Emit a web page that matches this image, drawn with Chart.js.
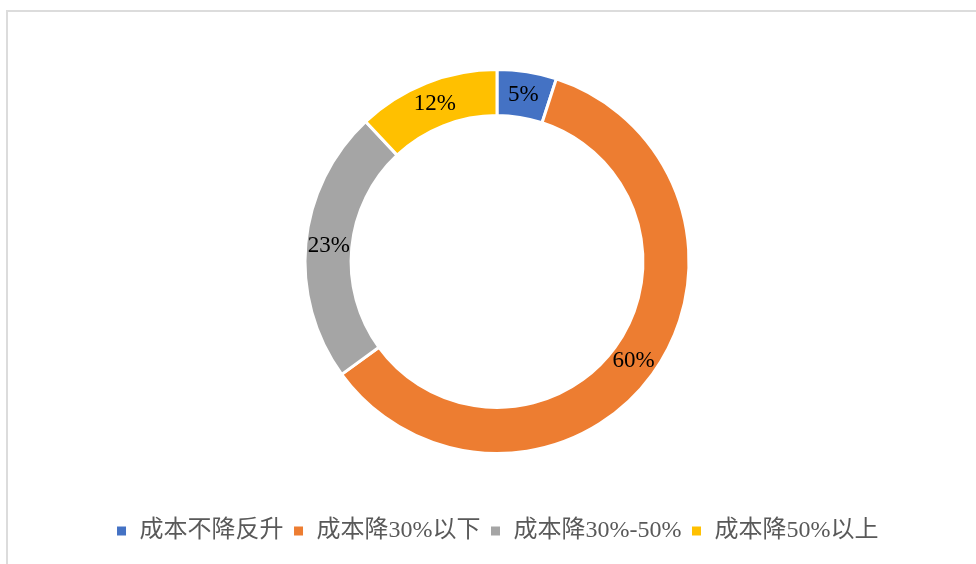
<!DOCTYPE html>
<html lang="zh-CN">
<head>
    <meta charset="UTF-8">
    <title>成本变化占比</title>
    <script src="https://cdn.jsdelivr.net/npm/chart.js"></script>
    <style>
        html, body {
            margin: 0;
            padding: 0;
            background: #fff;
            overflow: hidden;
        }

        .moldura {
            position: absolute;
            left: 6px;
            top: 10px;
            width: 1100px;
            height: 700px;
            border: 2px solid #dcdcdc;
        }

        .grafico-container {
            position: absolute;
            left: 0;
            top: 0;
            width: 976px;
            height: 564px;
        }
    </style>
</head>
<body>
    <div class="moldura"></div>
    <div class="grafico-container">
        <canvas id="grafico"></canvas>
    </div>

    <script>
        const categorias = ['成本不降反升', '成本降30%以下', '成本降30%-50%', '成本降50%以上'];
        const percentuais = [5, 60, 23, 12];
        const cores = ['#4472C4', '#ED7D31', '#A5A5A5', '#FFC000'];

        const fonteSerif = "'Liberation Serif', 'Times New Roman', 'Noto Sans CJK SC', serif";

        // escreve o valor no meio de cada fatia
        const rotulosFatias = {
            id: 'rotulosFatias',
            afterDatasetsDraw(chart) {
                const ctx = chart.ctx;
                const meta = chart.getDatasetMeta(0);
                ctx.save();
                ctx.font = '23px ' + fonteSerif;
                ctx.fillStyle = '#000';
                ctx.textAlign = 'center';
                ctx.textBaseline = 'middle';
                meta.data.forEach((arco, i) => {
                    const pos = arco.tooltipPosition();
                    ctx.fillText(percentuais[i] + '%', pos.x, pos.y);
                });
                ctx.restore();
            }
        };

        const ctx = document.getElementById('grafico').getContext('2d');

        new Chart(ctx, {
            type: 'doughnut',
            data: {
                labels: categorias,
                datasets: [{
                    data: percentuais,
                    backgroundColor: cores,
                    borderColor: '#fff',
                    borderWidth: 3,
                    radius: 192,
                    cutout: '76%'
                }]
            },
            options: {
                responsive: true,
                maintainAspectRatio: false,
                animation: false,
                layout: { padding: { top: 13, bottom: 11, left: 18, right: 0 } },
                plugins: {
                    legend: {
                        position: 'bottom',
                        labels: {
                            boxWidth: 12,
                            boxHeight: 12,
                            padding: 9,
                            color: '#595959',
                            font: { family: fonteSerif, size: 24 }
                        }
                    },
                    tooltip: { enabled: false }
                }
            },
            plugins: [rotulosFatias]
        });
    </script>
</body>
</html>
